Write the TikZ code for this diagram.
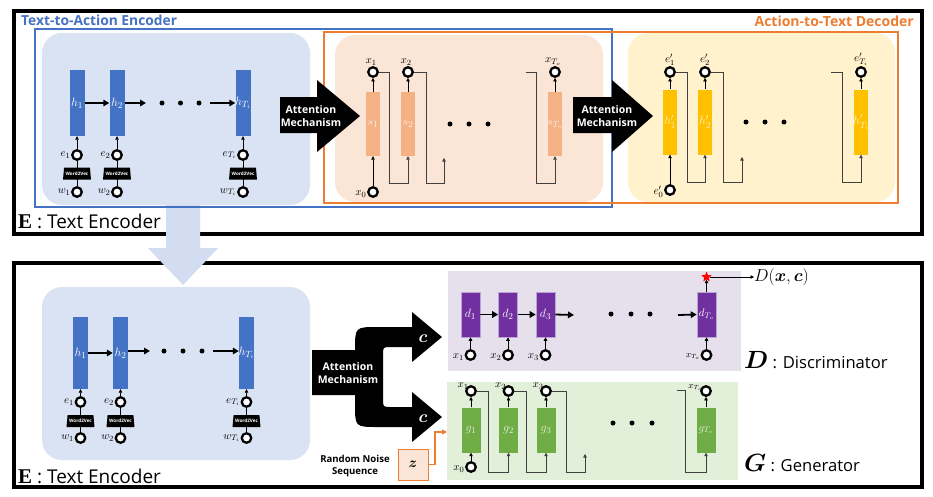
\documentclass[tikz,border=0pt]{standalone}
\usepackage{amsmath,bm}
\usepackage[no-math]{fontspec}
\setmainfont{Open Sans}
\newfontfamily\serifbold{Liberation Serif}
\usetikzlibrary{shapes.geometric,arrows.meta}
\definecolor{bblue}{HTML}{4472C4}
\definecolor{bgblue}{HTML}{DAE3F3}
\definecolor{arrblue}{HTML}{D2DDF1}
\definecolor{bgpeach}{HTML}{FBE5D6}
\definecolor{barpeach}{HTML}{F4B183}
\definecolor{bgyellow}{HTML}{FFF2CC}
\definecolor{baryellow}{HTML}{FFC000}
\definecolor{bgpurple}{HTML}{E6E0EC}
\definecolor{barpurple}{HTML}{7030A0}
\definecolor{bggreen}{HTML}{E2F0D9}
\definecolor{bargreen}{HTML}{70AD47}
\definecolor{oline}{HTML}{ED7D31}
\begin{document}
\begin{tikzpicture}[x=1pt,y=-1pt,
  bar/.style={rectangle,inner sep=0pt,draw=none},
  ebar/.style={bar,fill=bblue,minimum width=15pt,minimum height=66pt},
  ebarb/.style={bar,fill=bblue,minimum width=15pt,minimum height=72pt},
  sbar/.style={bar,fill=barpeach,minimum width=14pt,minimum height=64pt},
  ybar/.style={bar,fill=baryellow,minimum width=14pt,minimum height=65pt},
  dbar/.style={bar,fill=barpurple,draw=barpurple!45,line width=0.6pt,minimum width=19pt,minimum height=45pt},
  gbar/.style={bar,fill=bargreen,minimum width=19pt,minimum height=45pt},
  circ/.style={circle,draw=black,line width=2.3pt,fill=white,minimum size=9.5pt,inner sep=0pt},
  w2v/.style={trapezium,trapezium angle=75,trapezium stretches=true,minimum width=28pt,minimum height=12pt,fill=black,inner sep=0pt,text=white,font=\fontsize{4.6}{5}\selectfont\bfseries},
  hl/.style={inner sep=0pt,text=white,font=\fontsize{12.5}{12.5}\selectfont},
  sl/.style={inner sep=0.5pt,font=\fontsize{11}{11}\selectfont},
  thinarr/.style={-{Triangle[length=3.5pt,width=3.5pt]},line width=0.6pt},
  fb/.style={-{Triangle[length=3.5pt,width=3.5pt]},line width=0.6pt,draw=black!75},
  thickarr/.style={-{Triangle[length=6pt,width=6.5pt]},line width=1.8pt},
  dot/.style={circle,fill=black,inner sep=0pt,minimum size=5pt},
  attn/.style={text=white,align=center,font=\fontsize{10.5}{12.5}\selectfont\bfseries,inner sep=0pt},
  bigl/.style={anchor=west,inner sep=0pt,font=\fontsize{19}{19}\selectfont}
]
\useasboundingbox (0,0) rectangle (933,496);
\fill[white] (0,0) rectangle (933,496);

% frames
\draw[line width=4pt] (14,11) rectangle (922,234);
\draw[line width=4pt] (14,263) rectangle (922,487);

% top backgrounds
\fill[bgblue,rounded corners=20pt] (42,33) rectangle (310,205);
\fill[bgpeach,rounded corners=20pt] (335,35) rectangle (603,202);
\fill[bgyellow,rounded corners=20pt] (628,33) rectangle (895,202);

% down arrow
\fill[arrblue] (166,205) -- (200,205) -- (200,248) -- (218,248) -- (183,285) -- (148,248) -- (166,248) -- cycle;

% outlines
\draw[bblue,line width=2pt] (35,29) rectangle (612,207);
\draw[oline,line width=2pt] (324,32) rectangle (898,203);

\node[anchor=west,text=bblue,font=\fontsize{13.8}{14}\selectfont\bfseries,inner sep=0pt] (ttl1) at (21,20) {Text-to-Action Encoder};
\node[anchor=east,text=oline,font=\fontsize{14}{14}\selectfont\bfseries,inner sep=0pt] (ttl2) at (914,21) {Action-to-Text Decoder};
\node[bigl] (lE1) at (18,221) {{\fontsize{21}{21}\selectfont\serifbold\bfseries E} : Text Encoder};

% ---------- top encoder ----------
\node[ebar] (th1) at (77,103) {};
\node[ebar] (th2) at (117,103) {};
\node[ebar] (th3) at (243,103) {};
\node[hl] at (th1) {$h_1$};
\node[hl] at (th2) {$h_2$};
\node[hl] at (th3) {$h_{T_i}$};
\foreach \n/\x in {1/77,2/117,3/243}{
  \node[circ] (te\n) at (\x,155) {};
  \node[circ] (tw\n) at (\x,192) {};
  \draw[line width=0.6pt] (tw\n.north) -- (te\n.south);
  \node[w2v] (tv\n) at (\x,173.5) {Word2Vec};
  \draw[thinarr] (te\n.north) -- (th\n.south);
}
\node[sl,anchor=east] at (te1.west) {$e_1$};
\node[sl,anchor=east] at (te2.west) {$e_2$};
\node[sl,anchor=east] at (te3.west) {$e_{T_i}$};
\node[sl,anchor=east] at (tw1.west) {$w_1$};
\node[sl,anchor=east] at (tw2.west) {$w_2$};
\node[sl,anchor=east] at (tw3.west) {$w_{T_i}$};
\draw[thickarr] (th1.east) -- (th2.west);
\coordinate (tdA) at (146,103);
\coordinate (tdB) at (210,103);
\draw[thickarr] (th2.east) -- (tdA);
\node[dot] (td1) at (162,103) {};
\node[dot] (td2) at (180.5,103) {};
\node[dot] (td3) at (199,103) {};
\draw[thickarr] (tdB) -- (th3.west);

% attention arrows (top)
\fill (280,97) -- (317,97) -- (317,80) -- (360,116) -- (317,152) -- (317,133) -- (280,133) -- cycle;
\node[attn] (at1) at (311,116) {Attention\\Mechanism};
\fill (573,97) -- (612,97) -- (612,80) -- (653,116) -- (612,152) -- (612,133) -- (573,133) -- cycle;
\node[attn] (at2) at (607,116) {Attention\\Mechanism};

% ---------- peach decoder ----------
\node[sbar] (s1) at (373,124) {};
\node[sbar] (s2) at (408,124) {};
\node[sbar] (s3) at (555,124) {};
\node[hl,text=white!85!barpeach] at (s1) {$s_1$};
\node[hl,text=white!85!barpeach] at (s2) {$s_2$};
\node[hl,text=white!85!barpeach] at (s3) {$s_{T_o}$};
\node[circ] (x1) at (373,72) {};
\node[circ] (x2) at (408,72) {};
\node[circ] (x3) at (555,72) {};
\node[circ] (x0) at (373,192) {};
\node[sl,anchor=south] at ([xshift=-2pt]x1.north) {$x_1$};
\node[sl,anchor=south] at ([xshift=-2pt]x2.north) {$x_2$};
\node[sl,anchor=south] at ([xshift=-2pt]x3.north) {$x_{T_o}$};
\node[sl,anchor=east] at ([yshift=-2pt]x0.west) {$x_0$};
\draw[thinarr] (x0.north) -- (s1.south);
\foreach \n in {1,2,3}{\draw[thinarr] (s\n.north) -- (x\n.south);}
\coordinate (sf) at (444,158);
\coordinate (sg) at (526,72);
\draw[fb] (x1.east) -- (389,72) -- (389,183) -| (s2.south);
\draw[fb] (x2.east) -- (426,72) -- (426,183) -| (sf);
\draw[fb] (sg) -- (536,72) -- (536,183) -| (s3.south);
\node[dot] (sd1) at (450,124) {};
\node[dot] (sd2) at (469,124) {};
\node[dot] (sd3) at (488,124) {};

% ---------- yellow decoder ----------
\node[ybar] (y1) at (670,122) {};
\node[ybar] (y2) at (705,122) {};
\node[ybar] (y3) at (861,122) {};
\node[hl,text=white!80!baryellow] at (y1) {$h'_1$};
\node[hl,text=white!80!baryellow] at (y2) {$h'_2$};
\node[hl,text=white!80!baryellow] at (y3) {$h'_{T_i}$};
\node[circ] (ye1) at (670,72) {};
\node[circ] (ye2) at (705,72) {};
\node[circ] (ye3) at (861,72) {};
\node[circ] (ye0) at (670,190) {};
\node[sl,anchor=south] at (ye1.north) {$e'_1$};
\node[sl,anchor=south] at (ye2.north) {$e'_2$};
\node[sl,anchor=south] at (ye3.north) {$e'_{T_i}$};
\node[sl,anchor=east] at ([yshift=-2pt]ye0.west) {$e'_0$};
\draw[thinarr] (ye0.north) -- (y1.south);
\foreach \n in {1,2,3}{\draw[thinarr] (y\n.north) -- (ye\n.south);}
\coordinate (yf) at (742,157);
\coordinate (yg) at (831,72);
\draw[fb] (ye1.east) -- (687,72) -- (687,182) -| (y2.south);
\draw[fb] (ye2.east) -- (723,72) -- (723,182) -| (yf);
\draw[fb] (yg) -- (842,72) -- (842,182) -| (y3.south);
\node[dot] (yd1) at (746,122) {};
\node[dot] (yd2) at (765,122) {};
\node[dot] (yd3) at (784,122) {};

% ---------- bottom encoder ----------
\fill[bgblue,rounded corners=20pt] (42,287) rectangle (310,460);
\node[ebarb] (bh1) at (80.5,353) {};
\node[ebarb] (bh2) at (120.5,353) {};
\node[ebarb] (bh3) at (246.5,353) {};
\node[hl] at (bh1) {$h_1$};
\node[hl] at (bh2) {$h_2$};
\node[hl] at (bh3) {$h_{T_i}$};
\foreach \n/\x in {1/80.5,2/120.5,3/246.5}{
  \node[circ] (be\n) at (\x,402) {};
  \node[circ] (bw\n) at (\x,438) {};
  \draw[line width=0.6pt] (bw\n.north) -- (be\n.south);
  \node[w2v] (bv\n) at (\x,421) {Word2Vec};
  \draw[thinarr] (be\n.north) -- (bh\n.south);
}
\node[sl,anchor=east] at (be1.west) {$e_1$};
\node[sl,anchor=east] at (be2.west) {$e_2$};
\node[sl,anchor=east] at (be3.west) {$e_{T_i}$};
\node[sl,anchor=east] at (bw1.west) {$w_1$};
\node[sl,anchor=east] at (bw2.west) {$w_2$};
\node[sl,anchor=east] at (bw3.west) {$w_{T_i}$};
\draw[thickarr] (bh1.east) -- (bh2.west);
\coordinate (bdA) at (150,351);
\coordinate (bdB) at (213,351);
\draw[thickarr] ([yshift=2pt]bh2.east) -- (bdA);
\node[dot] (bd1) at (164,351) {};
\node[dot] (bd2) at (183,351) {};
\node[dot] (bd3) at (202,351) {};
\draw[thickarr] (bdB) -- ([yshift=2pt]bh3.west);
\node[bigl] (lE2) at (18,476) {{\fontsize{21}{21}\selectfont\serifbold\bfseries E} : Text Encoder};

% ---------- fork attention arrow ----------
\fill (312,350) -- (355,350) .. controls (355,327) .. (378,327) -- (412,327) -- (412,312) -- (442,337) -- (412,362) -- (412,347) -- (391,347) .. controls (383,347) .. (383,355) -- (383,399) .. controls (383,407) .. (391,407) -- (412,407) -- (412,392) -- (442,417) -- (412,442) -- (412,427) -- (378,427) .. controls (355,427) .. (355,404) -- (355,395) -- (312,395) -- cycle;
\node[attn] (at3) at (348,373) {Attention\\Mechanism};
\node[text=white,inner sep=0pt,font=\fontsize{16}{16}\selectfont] (cu) at (423,339) {$\bm{c}$};
\node[text=white,inner sep=0pt,font=\fontsize{16}{16}\selectfont] (cl) at (423,419) {$\bm{c}$};

% ---------- discriminator ----------
\fill[bgpurple] (448,271) rectangle (741,371);
\node[dbar] (d1) at (470.5,314.5) {};
\node[dbar] (d2) at (508,314.5) {};
\node[dbar] (d3) at (545.5,314.5) {};
\node[dbar] (d4) at (706.5,314.5) {};
\node[hl] at (d1) {$d_1$};
\node[hl] at (d2) {$d_2$};
\node[hl] at (d3) {$d_3$};
\node[hl,font=\fontsize{11}{11}\selectfont] at (d4) {$d_{T_o}$};
\foreach \n/\x in {1/470.5,2/508,3/545.5,4/706.5}{
  \node[circ] (dx\n) at (\x,355) {};
  \draw[thinarr] (dx\n.north) -- (d\n.south);
}
\node[sl,anchor=east] at ([yshift=-2pt]dx1.west) {$x_1$};
\node[sl,anchor=east] at ([yshift=-2pt]dx2.west) {$x_2$};
\node[sl,anchor=east] at ([yshift=-2pt]dx3.west) {$x_3$};
\node[sl,anchor=east,font=\fontsize{9}{9}\selectfont] at ([yshift=-2pt]dx4.west) {$x_{T_o}$};
\draw[thickarr] (d1.east) -- (d2.west);
\draw[thickarr] (d2.east) -- (d3.west);
\coordinate (ddA) at (574,315);
\coordinate (ddB) at (678,315);
\draw[thickarr] (d3.east) -- (ddA);
\node[dot] (dd1) at (611,314) {};
\node[dot] (dd2) at (631,314) {};
\node[dot] (dd3) at (650,314) {};
\draw[thickarr] (ddB) -- (d4.west);
\node[star,star points=5,star point ratio=2.3,fill=red,inner sep=0pt,minimum size=11pt] (st) at (706.5,277) {};
\draw[thinarr] (d4.north) -- (st.south);
\node[anchor=west,inner sep=0pt,font=\fontsize{16}{16}\selectfont] (Dxc) at (754,277) {$D(\bm{x},\bm{c})$};
\draw[thinarr] (st.east) -- (Dxc.west);
\node[anchor=west,inner sep=0pt] (lD) at (744,360) {\fontsize{23}{23}\selectfont$\bm{D}$\fontsize{16.6}{16.6}\selectfont\ : Discriminator};

% ---------- generator ----------
\fill[bggreen] (447,382) rectangle (738,480);
\node[gbar] (g1) at (471,430) {};
\node[gbar] (g2) at (508.5,430) {};
\node[gbar] (g3) at (546,430) {};
\node[gbar] (g4) at (706,430) {};
\node[hl,text=white!80!bargreen] at (g1) {$g_1$};
\node[hl,text=white!80!bargreen] at (g2) {$g_2$};
\node[hl,text=white!80!bargreen] at (g3) {$g_3$};
\node[hl,text=white!80!bargreen,font=\fontsize{11}{11}\selectfont] at (g4) {$g_{T_o}$};
\foreach \n/\x in {1/471,2/508.5,3/546,4/706}{
  \node[circ] (gx\n) at (\x,391) {};
  \draw[thinarr] (g\n.north) -- (gx\n.south);
}
\node[circ] (gx0) at (471,467) {};
\draw[thinarr] (gx0.north) -- (g1.south);
\node[sl,anchor=south east,inner sep=0pt] at ([xshift=2pt,yshift=-3pt]gx1.north west) {$x_1$};
\node[sl,anchor=south east,inner sep=0pt] at ([xshift=2pt,yshift=-3pt]gx2.north west) {$x_2$};
\node[sl,anchor=south east,inner sep=0pt] at ([xshift=2pt,yshift=-3pt]gx3.north west) {$x_3$};
\node[sl,anchor=south east,inner sep=0pt,font=\fontsize{9}{9}\selectfont] at ([xshift=1pt,yshift=-4pt]gx4.north west) {$x_{T_o}$};
\node[sl,anchor=east] at ([yshift=-2pt]gx0.west) {$x_0$};
\coordinate (gf) at (585,454);
\coordinate (gg) at (677,390);
\draw[fb] (gx1.east) -- (488,391) -- (488,472) -| (g2.south);
\draw[fb] (gx2.east) -- (526,391) -- (526,472) -| (g3.south);
\draw[fb] (gx3.east) -- (566,391) -- (566,472) -| (gf);
\draw[fb] (gg) -- (685,390) -- (685,472) -| (g4.south);
\node[dot] (gd1) at (613,423) {};
\node[dot] (gd2) at (632,423) {};
\node[dot] (gd3) at (652,423) {};
\node[anchor=west,inner sep=0pt] (lG) at (744,463) {\fontsize{23}{23}\selectfont$\bm{G}$\fontsize{16.6}{16.6}\selectfont\ : Generator};

% noise
\node[rectangle,fill=bgpeach,draw=oline,line width=0.8pt,minimum width=30pt,minimum height=31pt,inner sep=0pt,font=\fontsize{15}{15}\selectfont] (z) at (413,464.5) {$\bm{z}$};
\coordinate (zin) at (447,432);
\draw[oline,line width=1.8pt,-{Triangle[length=5pt,width=5pt]}] (z.east) -- (435,464.5) |- (zin);
\node[align=center,inner sep=0pt,font=\fontsize{9.6}{11.5}\selectfont\bfseries] (rns) at (355,466) {Random Noise\\Sequence};
\end{tikzpicture}
\end{document}
